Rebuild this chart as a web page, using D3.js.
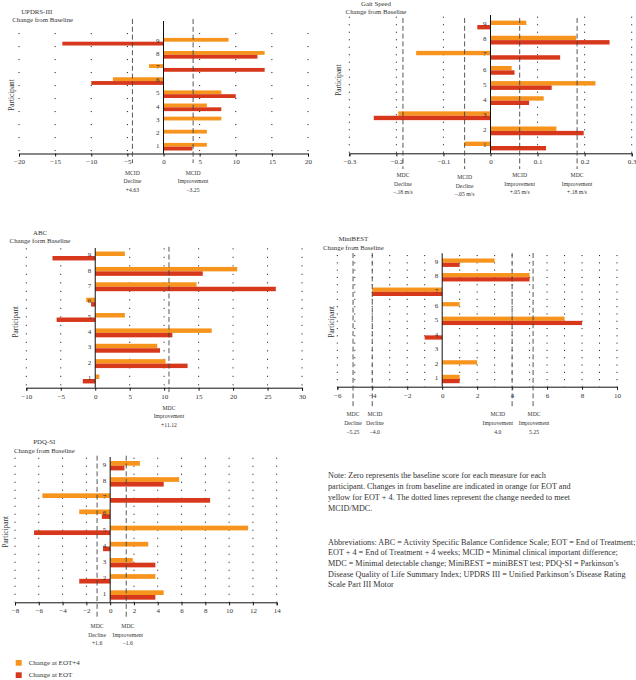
<!DOCTYPE html>
<html>
<head>
<meta charset="utf-8">
<script src="https://cdn.jsdelivr.net/npm/d3@7"></script>
<style>
body { margin: 0; background: #fff; }
svg { font-family: "Liberation Serif", "DejaVu Serif", serif; }
</style>
</head>
<body>
<svg id="chart" width="636" height="680"></svg>
<script>
var participants = [1, 2, 3, 4, 5, 6, 7, 8, 9];

var updrsEot4 = [6, 6, 8, 6, 8, -7, -2, 14, 9];
var updrsEot = [4, 0, 0, 8, 10, -10, 14, 13, -14];
var updrsTicks = [-20, -15, -10, -5, 0, 5, 10, 15, 20];
var updrsRefs = [-4.3, 4.1];
var updrsRefLabels = [["MCID", "Decline", "+4.63"], ["MCID", "Improvement", "–3.25"]];

var gaitEot4 = [-0.055, 0.14, -0.196, 0.113, 0.223, 0.045, -0.158, 0.182, 0.076];
var gaitEot = [0.118, 0.198, -0.248, 0.082, 0.13, 0.051, 0.148, 0.253, -0.028];
var gaitTicks = [-0.3, -0.2, -0.1, 0, 0.1, 0.2, 0.3];
var gaitRefs = [-0.186, -0.055, 0.062, 0.184];
var gaitRefLabels = [["MDC", "Decline", "–.18 m/s"], ["MCID", "Decline", "–.05 m/s"],
                     ["MCID", "Improvement", "+.05 m/s"], ["MDC", "Improvement", "+.18 m/s"]];

var abcEot4 = [0.6, 10.2, 9.0, 16.9, 4.3, -1.3, 14.7, 20.6, 4.3];
var abcEot = [-1.8, 13.4, 9.4, 11.2, -5.6, -0.6, 26.2, 15.6, -6.2];
var abcTicks = [-10, -5, 0, 5, 10, 15, 20, 25, 30];
var abcRefs = [10.7];
var abcRefLabels = [["MDC", "Improvement", "+11.12"]];

var minibestEot4 = [1, 2, 0, 0, 7, 1, -4, 5, 3];
var minibestEot = [1, 0, 0, -1, 8, 0, -4, 5, 1];
var minibestTicks = [-6, -4, -2, 0, 2, 4, 6, 8, 10];
var minibestGrid = [-6, -5, -4, -3, -2, -1, 1, 2, 3, 4, 5, 6, 7, 8, 9, 10];
var minibestRefs = [-5.1, -4.0, 4.0, 5.2];
var minibestRefLabels = [["MDC", "Decline", "–5.25"], ["MCID", "Decline", "–4.0"],
                         ["MCID", "Improvement", "4.0"], ["MDC", "Improvement", "5.25"]];

var pdqEot4 = [4.5, 3.8, 1.9, 3.2, 11.6, -2.6, -5.7, 5.8, 2.5];
var pdqEot = [3.8, -2.6, 3.8, -0.6, -6.4, -0.7, 8.4, 4.5, 1.2];
var pdqTicks = [-8, -6, -4, -2, 0, 2, 4, 6, 8, 10, 12, 14];
var pdqRefs = [-1.1, 1.35];
var pdqRefLabels = [["MDC", "Decline", "+1.6"], ["MDC", "Improvement", "–1.6"]];

var legendLabels = ["Change at EOT+4", "Change at EOT"];
var noteLines = [
    "Note: Zero represents the baseline score for each measure for each",
    "participant. Changes in from baseline are indicated in orange for EOT and",
    "yellow for EOT + 4. The dotted lines represent the change needed to meet",
    "MCID/MDC."
];
var abbrevLines = [
    "Abbreviations: ABC = Activity Specific Balance Confidence Scale; EOT = End of Treatment;",
    "EOT + 4 = End of Treatment + 4 weeks; MCID = Minimal clinical important difference;",
    "MDC = Minimal detectable change; MiniBEST = miniBEST test; PDQ-SI = Parkinson’s",
    "Disease Quality of Life Summary Index; UPDRS III = Unified Parkinson’s Disease Rating",
    "Scale Part III Motor"
];

var ORANGE = "#f7941d", RED = "#d7371a", INK = "#333";

var svg = d3.select("#chart");

var panels = [
    { title: ["UPDRS-III", "Change from Baseline"], titleX: [36.7, 42.7], titleY: [11, 19],
      eot4: updrsEot4, eot: updrsEot, ticks: updrsTicks, grid: updrsTicks,
      refs: updrsRefs, refLabels: updrsRefLabels, shift: [0, 0],
      x0: 19, x1: 308, axisY: 153.5, y1: 146.7, y9: 41.7,
      gridTop: 33, zeroTop: 21, dashTop: 19, dashBottom: 163, labY: 172.7,
      partX: 11, partY: 95, dots: "1.1,11.9" },
    { title: ["Gait Speed", "Change from Baseline"], titleX: [376, 376], titleY: [3.6, 11.5],
      eot4: gaitEot4, eot: gaitEot, ticks: gaitTicks, grid: gaitTicks,
      refs: gaitRefs, refLabels: gaitRefLabels, shift: [0, 0, 0, 0], labShiftY: [0, 2, 0, 0],
      x0: 349.3, x1: 631.7, axisY: 153.3, y1: 146, y9: 25,
      gridTop: 16.7, zeroTop: 15, dashTop: 18, dashBottom: 169, labY: 175,
      partX: 338, partY: 80, dots: "1.1,6.4" },
    { title: ["ABC", "Change form Baseline"], titleX: [40, 40], titleY: [232.3, 240.7],
      eot4: abcEot4, eot: abcEot, ticks: abcTicks, grid: abcTicks,
      refs: abcRefs, refLabels: abcRefLabels, shift: [0],
      x0: 26.3, x1: 302, axisY: 387.7, y1: 379, y9: 256,
      gridTop: 248.3, zeroTop: 248, dashTop: 246.7, dashBottom: 395, labY: 407.7,
      partX: 15, partY: 321.7, dots: "1.1,7.4" },
    { title: ["MiniBEST", "Change from Baseline"], titleX: [353.3, 353.3], titleY: [238.3, 247],
      eot4: minibestEot4, eot: minibestEot, ticks: minibestTicks, grid: minibestGrid,
      refs: minibestRefs, refLabels: minibestRefLabels, shift: [0, 2.7, -14.3, 1],
      x0: 337.3, x1: 617, axisY: 386.7, y1: 379, y9: 262.7,
      gridTop: 255, zeroTop: 253.3, dashTop: 253, dashBottom: 407.7, labY: 414.3,
      partX: 331, partY: 321.7, dots: "1.1,6.2" },
    { title: ["PDQ-SI", "Change from Baseline"], titleX: [44.3, 44.3], titleY: [441.7, 450.7],
      eot4: pdqEot4, eot: pdqEot, ticks: pdqTicks, grid: pdqTicks,
      refs: pdqRefs, refLabels: pdqRefLabels, shift: [0, 1.6],
      x0: 15, x1: 276.7, axisY: 602.3, y1: 595, y9: 465.7,
      gridTop: 457.7, zeroTop: 457, dashTop: 455.7, dashBottom: 618.3, labY: 626,
      partX: 5, partY: 531.7, dots: "1.1,6.9" }
];

var fmt = d3.format("");

var drawPanel = function (p) {
    var ext = d3.extent(p.ticks);
    var x = d3.scaleLinear().domain(ext).range([p.x0, p.x1]);
    var y = d3.scaleLinear().domain([1, 9]).range([p.y1, p.y9]);
    var step = (p.y1 - p.y9) / 8;
    var h = step * 0.29;
    var g = svg.append("g");

    // titles
    p.title.forEach(function (t, i) {
        g.append("text")
            .attr("x", p.titleX[i]).attr("y", p.titleY[i])
            .attr("text-anchor", "middle").attr("dominant-baseline", "central")
            .attr("font-size", 6.8).attr("fill", INK)
            .text(t);
    });

    // dotted grid
    g.selectAll(".grid").data(p.grid.filter(function (v) { return v !== 0; }))
        .enter().append("line")
        .attr("x1", function (d) { return x(d); }).attr("x2", function (d) { return x(d); })
        .attr("y1", p.gridTop).attr("y2", p.axisY)
        .attr("stroke", "#222").attr("stroke-width", 1)
        .attr("stroke-dasharray", p.dots);

    // bars
    g.selectAll(".b4").data(participants).enter().append("rect")
        .attr("x", function (d, i) { return Math.min(x(0), x(p.eot4[i])); })
        .attr("width", function (d, i) { return Math.abs(x(p.eot4[i]) - x(0)); })
        .attr("y", function (d) { return y(d) - h; })
        .attr("height", h)
        .attr("fill", ORANGE);
    g.selectAll(".b0").data(participants).enter().append("rect")
        .attr("x", function (d, i) { return Math.min(x(0), x(p.eot[i])); })
        .attr("width", function (d, i) { return Math.abs(x(p.eot[i]) - x(0)); })
        .attr("y", function (d) { return y(d); })
        .attr("height", h)
        .attr("fill", RED);

    // participant numbers
    g.selectAll(".pn").data(participants).enter().append("text")
        .attr("x", x(0) - 4).attr("y", function (d) { return y(d) - 0.8; })
        .attr("text-anchor", "end").attr("dominant-baseline", "central")
        .attr("font-size", 7).attr("fill", INK)
        .text(function (d) { return d; });

    // axes
    g.append("line")
        .attr("x1", x(0)).attr("x2", x(0)).attr("y1", p.zeroTop).attr("y2", p.axisY)
        .attr("stroke", "#111").attr("stroke-width", 1);
    var ax = d3.axisBottom(x).tickValues(p.ticks).tickFormat(fmt).tickSize(3).tickPadding(3);
    var axg = g.append("g").attr("transform", "translate(0," + p.axisY + ")").call(ax);
    axg.select(".domain").attr("stroke", "#111").attr("stroke-width", 1);
    axg.selectAll(".tick line").attr("stroke", "#111");
    axg.selectAll(".tick text")
        .attr("font-family", "Liberation Serif, serif")
        .attr("font-size", 7).attr("fill", INK);

    // reference lines
    p.refs.forEach(function (v, i) {
        g.append("line")
            .attr("x1", x(v)).attr("x2", x(v)).attr("y1", p.dashTop).attr("y2", p.dashBottom)
            .attr("stroke", "#444").attr("stroke-width", 0.9)
            .attr("stroke-dasharray", "5,2.8");
        var dy = p.labShiftY ? p.labShiftY[i] : 0;
        p.refLabels[i].forEach(function (t, j) {
            g.append("text")
                .attr("x", x(v) + p.shift[i]).attr("y", p.labY + dy + j * 8.6)
                .attr("text-anchor", "middle").attr("dominant-baseline", "central")
                .attr("font-size", 5.7).attr("fill", INK)
                .text(t);
        });
    });

    // y label
    g.append("text")
        .attr("transform", "translate(" + p.partX + "," + p.partY + ") rotate(-90)")
        .attr("text-anchor", "middle").attr("dominant-baseline", "central")
        .attr("font-size", 7.3).attr("fill", INK)
        .text("Participant");
};

panels.forEach(drawPanel);

// legend
var legColors = [ORANGE, RED];
var leg = svg.append("g");
legendLabels.forEach(function (t, i) {
    leg.append("rect").attr("x", 15.7).attr("y", 660 + i * 12.3)
        .attr("width", 6).attr("height", 5.7).attr("fill", legColors[i]);
    leg.append("text").attr("x", 28.7).attr("y", 662.8 + i * 12.3)
        .attr("dominant-baseline", "central").attr("font-size", 7).attr("fill", INK)
        .text(t);
});

// notes
var notes = svg.append("g").attr("font-size", 8.2).attr("fill", INK);
noteLines.forEach(function (t, i) {
    notes.append("text").attr("x", 328).attr("y", 475.5 + i * 11.1)
        .attr("dominant-baseline", "central").text(t);
});
abbrevLines.forEach(function (t, i) {
    notes.append("text").attr("x", 328).attr("y", 542 + i * 10.7)
        .attr("dominant-baseline", "central").text(t);
});
</script>
</body>
</html>
